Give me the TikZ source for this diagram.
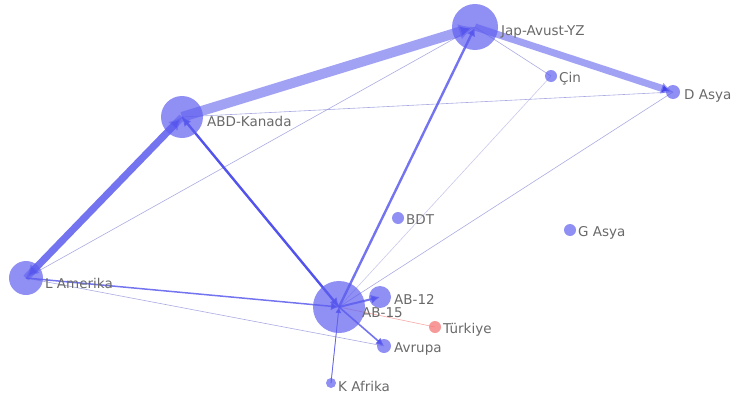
\documentclass[tikz,border=0pt]{standalone}
\usepackage{fontspec}
\newfontfamily\labfont{DejaVu Sans}
\usetikzlibrary{arrows.meta}
\pgfdeclarelayer{bg}
\pgfsetlayers{bg,main}
\definecolor{nodeblue}{RGB}{95,95,240}
\definecolor{edgeblue}{RGB}{70,70,235}
\definecolor{thinblue}{RGB}{135,135,215}
\definecolor{labgrey}{RGB}{105,105,105}
\definecolor{turkred}{RGB}{245,110,110}
\tikzset{
  vtx/.style={circle, fill=nodeblue, fill opacity=0.7, draw=none, inner sep=0pt, minimum size=#1},
  lab/.style={anchor=west, text=labgrey, inner sep=0pt, font=\labfont\fontsize{13.5}{15}\selectfont},
  thick edge/.style={draw=edgeblue, draw opacity=0.5, line width=#1},
  mid edge/.style={draw=edgeblue, draw opacity=0.75, line width=#1},
  thin edge/.style={draw=thinblue, draw opacity=0.7, line width=0.6pt},
  tip/.style={-{Latex[length=#1, width=#1]}},
}
\begin{document}
\begin{tikzpicture}[x=1pt, y=-1pt]
\useasboundingbox (0,0) rectangle (737,399);
% nodes
\node[vtx=46pt] (jap) at (475,27) {};
\node[vtx=42pt] (abd) at (182,117) {};
\node[vtx=34pt] (lam) at (26,278) {};
\node[vtx=52pt] (ab15) at (339,307) {};
\node[vtx=22pt] (ab12) at (380,297) {};
\node[vtx=12pt, fill=turkred] (tur) at (435,327) {};
\node[vtx=14pt] (avr) at (384,346) {};
\node[vtx=10pt] (kaf) at (331,383) {};
\node[vtx=12pt] (bdt) at (398,218) {};
\node[vtx=12pt] (gas) at (570,230) {};
\node[vtx=12pt] (cin) at (551,76) {};
\node[vtx=14pt] (das) at (673,92) {};
% labels
\node[lab] (japl) at (501,32) {Jap-Avust-YZ};
\node[lab] (abdl) at (207,121) {ABD-Kanada};
\node[lab] (laml) at (45,283) {L Amerika};
\node[lab] (ab12l) at (394,299) {AB-12};
\node[lab] (ab15l) at (362,313) {AB-15};
\node[lab] (turl) at (443,330) {Türkiye};
\node[lab] (avrl) at (394,349) {Avrupa};
\node[lab] (kafl) at (338,386) {K Afrika};
\node[lab] (bdtl) at (406,220) {BDT};
\node[lab] (gasl) at (578,233) {G Asya};
\node[lab] (cinl) at (559,79) {Çin};
\node[lab] (dasl) at (684,96) {D Asya};
% edges
\begin{pgfonlayer}{bg}
\draw[thin edge] (lam.center) -- (avr.center);
\draw[thin edge] (lam.center) -- (jap.center);
\draw[thin edge] (abd.center) -- (das.center);
\draw[thin edge] (jap.center) -- (cin.center);
\draw[thin edge, draw opacity=0.45] (cin.center) -- (ab15.center);
\draw[thin edge] (das.center) -- (ab15.center);
\draw[thin edge] (ab15.center) -- (kaf.center);
\draw[draw=turkred, draw opacity=0.6, line width=0.6pt] (ab15.center) -- (tur.center);
\draw[thick edge=10pt, tip=16pt] (abd.center) -- (jap.center);
\draw[thick edge=7pt, tip=13pt] (lam.center) -- (abd.center);
\draw[thick edge=7pt, tip=13pt] (abd.center) -- (lam.center);
\draw[thick edge=7pt, tip=12pt] (jap.center) -- (das.center);
\draw[mid edge=2.4pt, tip=9pt] (ab15.center) -- (jap.center);
\draw[mid edge=2.4pt, tip=9pt] (ab15.center) -- (abd.center);
\draw[mid edge=2pt, tip=9pt] (abd.center) -- (ab15.center);
\draw[mid edge=1.5pt, tip=8pt] (lam.center) -- (ab15.center);
\draw[mid edge=2pt, tip=9pt] (ab15.center) -- (ab12.center);
\draw[mid edge=1.6pt, tip=8pt] (ab15.center) -- (avr.center);
\draw[mid edge=0.8pt, tip=6pt] (kaf.center) -- (ab15.center);
\end{pgfonlayer}
\end{tikzpicture}
\end{document}
